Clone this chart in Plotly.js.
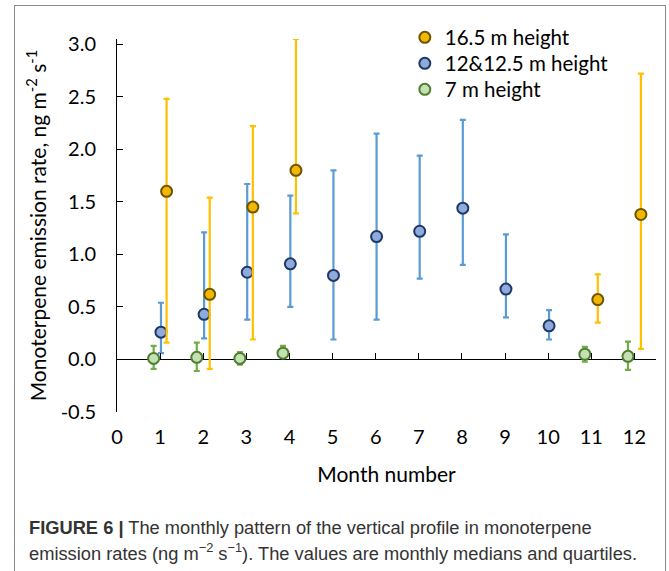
<!DOCTYPE html>
<html><head><meta charset="utf-8">
<script src="https://cdn.plot.ly/plotly-3.0.1.min.js"></script>
<style>
html,body{margin:0;padding:0;background:#fff;overflow:hidden;}
#wrap{position:relative;width:669px;height:571px;}
#chart{position:absolute;left:0;top:0;width:669px;height:571px;}
#frame{position:absolute;left:14px;top:5px;width:652px;height:600px;border:1.5px solid #8a8a8a;pointer-events:none;box-sizing:border-box;}
</style>
</head><body>
<div id="wrap"><div id="chart"></div><div id="frame"></div></div>
<script>
// Months
const months16 = [1, 2, 3, 4, 11, 12];
const months12 = [1, 2, 3, 4, 5, 6, 7, 8, 9, 10];
const months7  = [1, 2, 3, 4, 11, 12];
// 16.5 m height: median, lower quartile, upper quartile
const med16 = [1.60, 0.62, 1.45, 1.80, 0.57, 1.38];
const q1_16 = [0.16, -0.09, 0.19, 1.39, 0.35, 0.10];
const q3_16 = [2.48, 1.54, 2.22, 3.05, 0.81, 2.72];
// 12&12.5 m height
const med12 = [0.26, 0.43, 0.83, 0.91, 0.80, 1.17, 1.22, 1.44, 0.67, 0.32];
const q1_12 = [0.06, 0.20, 0.38, 0.50, 0.19, 0.38, 0.77, 0.90, 0.40, 0.19];
const q3_12 = [0.54, 1.21, 1.67, 1.56, 1.80, 2.15, 1.94, 2.28, 1.19, 0.47];
// 7 m height
const med7 = [0.01, 0.02, 0.01, 0.06, 0.05, 0.03];
const q1_7 = [-0.09, -0.11, -0.05, 0.03, -0.02, -0.10];
const q3_7 = [0.13, 0.16, 0.07, 0.13, 0.12, 0.17];
// Tick labels
const xTickVals = [0,1,2,3,4,5,6,7,8,9,10,11,12];
const xTickText = ['0','1','2','3','4','5','6','7','8','9','10','11','12'];
const yTickVals = [-0.5, 0, 0.5, 1, 1.5, 2, 2.5, 3];
const yTickText = ['-0.5','0.0','0.5','1.0','1.5','2.0','2.5','3.0'];
const seriesNames = ['16.5 m height', '12&12.5 m height', '7 m height'];

const FONT = 'Lato, "Open Sans", sans-serif';

function mk(name, months, med, q1, q3, off, fill, edge, ecol, leg){
  return {
    type:'scatter', mode:'markers', name:name, legend:leg,
    x: months.map(m => m + off), y: med,
    marker:{size:11, color:fill, line:{color:edge, width:2}},
    error_y:{type:'data', symmetric:false,
      array: q3.map((v,i)=>v-med[i]),
      arrayminus: med.map((v,i)=>v-q1[i]),
      color:ecol, thickness:2.2, width:3},
    cliponaxis:false
  };
}

const traces = [
  mk(seriesNames[2], months7, med7, q1_7, q3_7, -0.15, '#C5E0B4', '#4E7F2E', '#70AD47', 'legend3'),
  mk(seriesNames[1], months12, med12, q1_12, q3_12, 0.02, '#8FAADC', '#1F3864', '#5B9BD5', 'legend2'),
  mk(seriesNames[0], months16, med16, q1_16, q3_16, 0.15, '#F2B800', '#6E5400', '#FFC000', 'legend'),
  {type:'scatter', x:[], y:[], xaxis:'x2', showlegend:false, hoverinfo:'skip'}
];

function leg(centerPx){
  return {x:0.534, y:1 + (39 - (centerPx - 20.5))/373, xanchor:'left', yanchor:'top',
    font:{family:FONT, size:20.5, color:'#000'}, bgcolor:'rgba(0,0,0,0)', itemwidth:30};
}

const yMin = -0.5, yMax = 3.05;
const layout = {
  width:669, height:571,
  margin:{l:117, r:13, t:39, b:159},
  paper_bgcolor:'#fff', plot_bgcolor:'rgba(0,0,0,0)',
  font:{family:FONT, color:'#000', size:20},
  showlegend:true,
  legend:leg(38), legend2:leg(64), legend3:leg(90),
  xaxis:{range:[0,12.5], tickvals:xTickVals, ticktext:xTickText, showline:false,
    ticks:'', showgrid:false, zeroline:false, ticklabelstandoff:11,
    tickfont:{family:FONT, size:20},
    title:{text:'Month number', font:{family:FONT, size:21}, standoff:20}},
  xaxis2:{range:[0,12.5], overlaying:'x', anchor:'free',
    position:(0 - yMin)/(yMax - yMin), side:'bottom',
    tickvals:xTickVals, showticklabels:false, ticks:'inside', ticklen:6,
    tickcolor:'#000', tickwidth:1, showline:false, showgrid:false, zeroline:false},
  yaxis:{range:[yMin,yMax], tickvals:yTickVals, ticktext:yTickText,
    showline:true, linecolor:'#000', linewidth:1, ticks:'inside', ticklen:6,
    tickcolor:'#000', showgrid:false, zeroline:true, zerolinecolor:'#000',
    zerolinewidth:1, ticklabelstandoff:16, tickfont:{family:FONT, size:20},
    title:{text:'Monoterpene emission rate, ng m<sup>-2</sup> s<sup>-1</sup>',
      font:{family:FONT, size:21}, standoff:8}},
  annotations:[
    {xref:'paper', yref:'paper', x:(27-117)/539, y:(412-527)/373, xanchor:'left', yanchor:'middle',
     showarrow:false, align:'left',
     text:'<b>FIGURE 6 |</b> The monthly pattern of the vertical profile in monoterpene',
     font:{family:'"Liberation Sans", Arial, sans-serif', size:18.3, color:'#333'}},
    {xref:'paper', yref:'paper', x:(27-117)/539, y:(412-552)/373, xanchor:'left', yanchor:'middle',
     showarrow:false, align:'left',
     text:'emission rates (ng m<sup>−2</sup> s<sup>−1</sup>). The values are monthly medians and quartiles.',
     font:{family:'"Liberation Sans", Arial, sans-serif', size:18.3, color:'#333'}}
  ]
};
Plotly.newPlot('chart', traces, layout, {displayModeBar:false, staticPlot:true});
</script>
</body></html>
